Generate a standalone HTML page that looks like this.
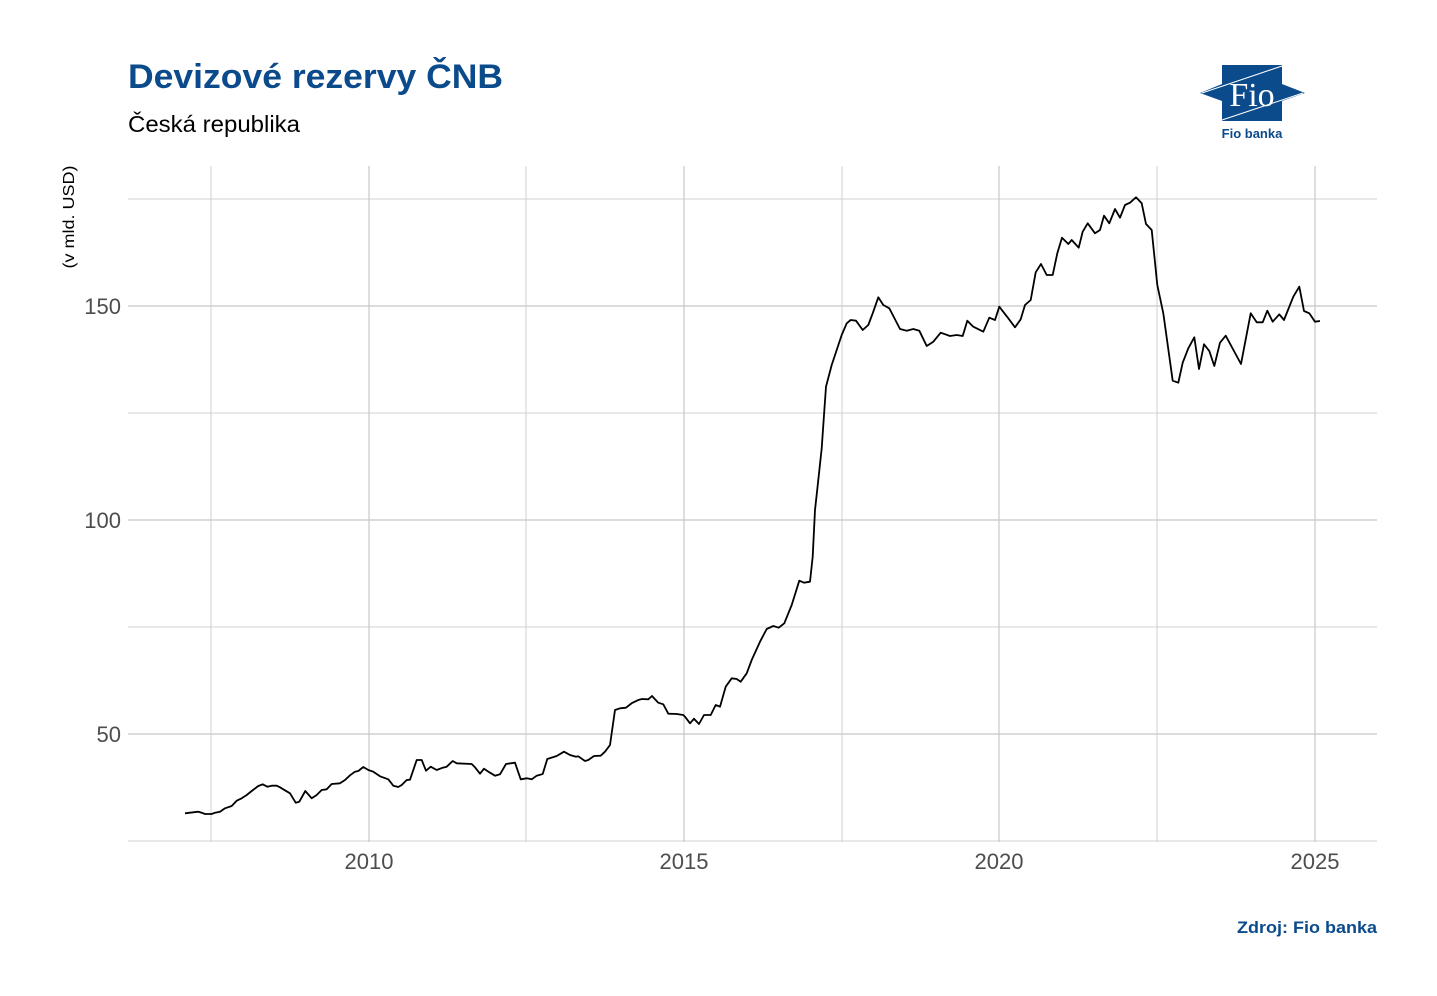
<!DOCTYPE html>
<html><head><meta charset="utf-8"><style>
html,body{margin:0;padding:0;background:#fff;}
svg{display:block;font-family:"Liberation Sans",sans-serif;}
</style></head><body>
<svg width="1437" height="996" viewBox="0 0 1437 996" xmlns="http://www.w3.org/2000/svg">
<rect width="1437" height="996" fill="#fff"/>
<text x="128" y="88" font-size="34" font-weight="bold" fill="#0b4a8b" textLength="375" lengthAdjust="spacingAndGlyphs">Devizové rezervy ČNB</text>
<text x="128" y="132" font-size="23" fill="#000" textLength="172" lengthAdjust="spacingAndGlyphs">Česká republika</text>
<g>
<polygon points="1222,65 1282,65 1282,84 1305,93 1282,101 1282,121 1222,121 1222,101 1200,93 1222,84" fill="#0b4a8b"/>
<polyline points="1202,93 1282,66" stroke="#fff" stroke-width="1" fill="none"/>
<polyline points="1222,120 1303,93" stroke="#fff" stroke-width="1" fill="none"/>
<text x="1252" y="106" font-size="34" font-family="Liberation Serif,serif" fill="#fff" text-anchor="middle">Fio</text>
<text x="1252" y="138" font-size="13" font-weight="bold" fill="#0b4a8b" text-anchor="middle">Fio banka</text>
</g>
<g stroke="#d0d0d0" stroke-width="1">
<line x1="128" y1="199" x2="1377" y2="199"/><line x1="128" y1="413" x2="1377" y2="413"/><line x1="128" y1="627" x2="1377" y2="627"/><line x1="128" y1="841" x2="1377" y2="841"/>
<line x1="211" y1="166" x2="211" y2="842"/><line x1="526" y1="166" x2="526" y2="842"/><line x1="842" y1="166" x2="842" y2="842"/><line x1="1157" y1="166" x2="1157" y2="842"/>
</g>
<g stroke="#c8c8c8" stroke-width="1.2">
<line x1="128" y1="306" x2="1377" y2="306"/><line x1="128" y1="520" x2="1377" y2="520"/><line x1="128" y1="734" x2="1377" y2="734"/>
<line x1="369" y1="166" x2="369" y2="842"/><line x1="684" y1="166" x2="684" y2="842"/><line x1="999" y1="166" x2="999" y2="842"/><line x1="1315" y1="166" x2="1315" y2="842"/>
</g>
<g font-size="22" fill="#4d4d4d" text-anchor="end">
<text x="121" y="314">150</text><text x="121" y="528">100</text><text x="121" y="742">50</text>
</g>
<g font-size="22" fill="#4d4d4d" text-anchor="middle">
<text x="369" y="869">2010</text><text x="684" y="869">2015</text><text x="999" y="869">2020</text><text x="1315" y="869">2025</text>
</g>
<text transform="translate(74,217) rotate(-90)" font-size="16" fill="#000" text-anchor="middle" textLength="103" lengthAdjust="spacingAndGlyphs">(v mld. USD)</text>
<polyline fill="none" stroke="#000" stroke-width="1.8" stroke-linejoin="round" points="
185,813.3 198.3,811.7 201.7,812.7 205,814 211.7,814 215,812.7 220,811.7 225,808.3 231.7,806 236.7,800.7 241.7,798.3 246.7,795 251.7,791 258.3,786 262.7,784.3 267.3,786.7 271.7,785.7 276.7,785.7 280,787.3 283.3,789.3 290,793.3 295.7,802.7 299.3,801.7 305.3,791 311.7,798.3 316.7,795 321.7,790 326.7,789.3 331.7,784 340,783.3 345,780 350,775.3 355,771.7 358.3,771 363.3,767 368.3,770 373.3,771.7 380,776.3 388.3,779.3 393.3,785.7 398.3,787 401.7,785 406.7,780 410,779.7 416.7,760 421.7,760 426,770.7 430.7,766.7 436.7,770 442.7,767.7 446.7,766.7 452.7,761 456.7,763.3 471.7,764 475,767.3 480,773.7 484,768.7 490,772.7 495,775.7 500,774.3 506,764 515,762.7 520.7,779.3 526.7,778.3 531.7,779.3 536.7,775.7 542.7,774 547.3,759 556.7,756 564,751.7 570,755 576,756.7 578.3,756.3 585,761 588.3,760 594,756 600.7,755.7 605,751.7 610,745 615,710 620,708.3 626,707.7 632,703 638.3,700 642,699 648.3,699.3 652,696 658.3,702.7 663.3,704.3 668.3,713.7 676.7,714 683.3,715
685,716.7 690,723.3 694,718.7 699,724 704,715 710.7,715 715.7,705 720,706.7 725.7,686.7 731.7,678.3 736.7,679 740.7,681.7 746.7,673.3 751.7,660 760,641.7 766.7,629 773.3,626 778.7,627.7 784.3,623.3 791.7,605 799.3,580.7 804,582.7 810,581.7 812.7,556.7 815,510 818.3,480 821.7,448.3 824,415 826,386.7 831.7,365 836.7,350 841.7,335 846.7,323.3 850.7,320 856,320.7 862.7,330 868.3,325 872.7,313.3 878.3,297.3 883.3,305 889.3,308.3 900,329 906.7,330.7 913.3,329 919.3,330.7 926.7,346 933.3,341.7 940.7,332.7 950,336 956.7,335 962.7,336 967.3,320.7 973.3,326.7 983.3,331.7 989.3,317.7 995,320 999.3,306.7 1008.3,318.3 1015,327.3 1020.7,319.3 1025,305 1030.7,300 1035.7,272.3 1041,264 1046.7,275 1052.7,275 1057.3,253.3 1062,237.7 1068.3,244 1071.7,240 1078.7,247.7 1082.7,231.7 1087.7,223.3 1095,233.3 1100,230 1104,215.7 1109.3,223.3 1115,209 1120,217.7 1125,205 1130,202.7 1136,197.3 1141.7,203.3 1146,224 1151.7,230 1157.3,285 1163.3,313.3 1172.7,380.7 1178.3,382.7 1182.7,362.7 1188.3,348.3 1194.3,337.3 1199,369 1204,344.3 1209.3,351 1214.3,366 1220,342.7 1225.7,335.7 1241,364 1250.7,313.3 1256.7,322.3 1262.7,322.3 1267.3,310.7 1272.7,321.7 1279.3,314.3 1284,320 1293.3,296.7 1299.3,286.7 1304,311 1309.3,313.3 1315,321.7 1320,321"/>
<text x="1377" y="933" font-size="17" font-weight="bold" fill="#0b4a8b" text-anchor="end" textLength="140" lengthAdjust="spacingAndGlyphs">Zdroj: Fio banka</text>
</svg>
</body></html>
